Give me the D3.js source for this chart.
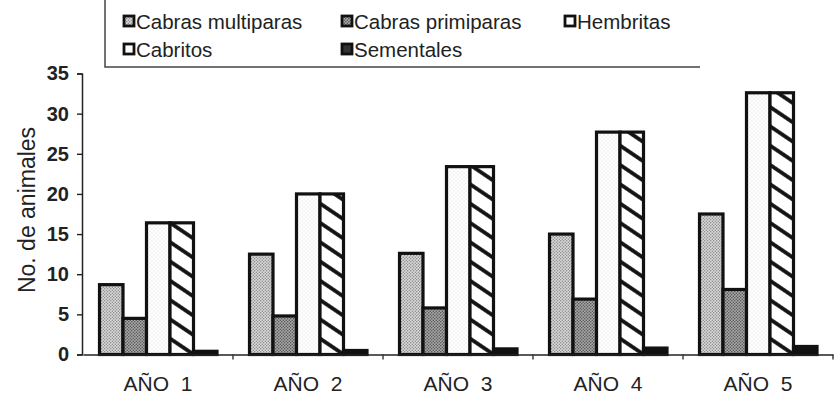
<!DOCTYPE html>
<html>
<head>
<meta charset="utf-8">
<script src="https://cdn.jsdelivr.net/npm/d3@7/dist/d3.min.js"></script>
<style>
  html, body { margin: 0; padding: 0; background: #fff; }
  svg { display: block; font-family: "Liberation Sans", Arial, sans-serif; }
</style>
</head>
<body>
<svg id="chart" width="835" height="401"></svg>
<script>
// Herd composition per year
const years = ["AÑO  1", "AÑO  2", "AÑO  3", "AÑO  4", "AÑO  5"];
const seriesNames = ["Cabras multiparas", "Cabras primiparas", "Hembritas", "Cabritos", "Sementales"];
const multiparas = [8.7, 12.5, 12.6, 15.0, 17.5];
const primiparas = [4.5, 4.8, 5.8, 6.9, 8.1];
const hembritas  = [16.4, 20.0, 23.4, 27.7, 32.6];
const cabritos   = [16.4, 20.0, 23.4, 27.7, 32.6];
const sementales = [0.4, 0.5, 0.7, 0.8, 1.0];
const yTicks = [0, 5, 10, 15, 20, 25, 30, 35];

const seriesValues = [multiparas, primiparas, hembritas, cabritos, sementales];
const fills = ["url(#pMulti)", "url(#pPrimi)", "url(#pHemb)", "url(#pCabr)", "#111"];

const svg = d3.select("#chart");
const defs = svg.append("defs");

// stipple fills
function dots(id, size, bg, color, pts, r) {
  const p = defs.append("pattern").attr("id", id)
    .attr("patternUnits", "userSpaceOnUse").attr("width", size).attr("height", size);
  p.append("rect").attr("width", size).attr("height", size).attr("fill", bg);
  pts.forEach(([x, y]) => p.append("circle").attr("cx", x).attr("cy", y).attr("r", r).attr("fill", color));
}
dots("pMulti", 3, "#dcdcdc", "#7a7a7a", [[0.75, 0.75], [2.25, 2.25]], 0.7);
dots("pPrimi", 3, "#aaa", "#4a4a4a", [[0.75, 0.75], [2.25, 2.25]], 0.75);
dots("pHemb", 4, "#fff", "#d2d2d2", [[1, 1], [3, 3]], 0.6);

// diagonal hatch
const hatch = defs.append("pattern").attr("id", "pCabr")
  .attr("patternUnits", "userSpaceOnUse").attr("width", 16).attr("height", 16)
  .attr("patternTransform", "rotate(34)");
hatch.append("rect").attr("width", 16).attr("height", 16).attr("fill", "#fff");
hatch.append("line").attr("x1", 0).attr("x2", 16).attr("y1", 8).attr("y2", 8)
  .attr("stroke", "#111").attr("stroke-width", 3.8);

const x0 = d3.scaleBand().domain(years).range([83, 833]).paddingInner(0);
const x1 = d3.scaleBand().domain(seriesNames).range([16.5, x0.bandwidth() - 16]).padding(0);
const y = d3.scaleLinear().domain([0, 35]).range([354.5, 73.5]);

// bars
const groups = svg.append("g").selectAll("g").data(years).join("g")
  .attr("transform", d => `translate(${x0(d)},0)`);
groups.selectAll("rect")
  .data((d, i) => seriesNames.map((s, k) => ({ s, k, v: seriesValues[k][i] })))
  .join("rect")
  .attr("x", d => x1(d.s))
  .attr("width", x1.bandwidth())
  .attr("y", d => y(d.v))
  .attr("height", d => y(0) - y(d.v))
  .attr("fill", d => fills[d.k])
  .attr("stroke", "#111")
  .attr("stroke-width", 3.2);

// y axis
const yAxis = svg.append("g").attr("transform", "translate(82,0)")
  .call(d3.axisLeft(y).tickValues(yTicks).tickSize(5).tickPadding(8).tickFormat(d3.format("d")));
yAxis.select(".domain").attr("stroke", "#222").attr("stroke-width", 1.5);
yAxis.selectAll(".tick line").attr("stroke", "#222").attr("stroke-width", 1.4);
yAxis.selectAll(".tick text").attr("font-size", 20).attr("font-weight", "bold")
  .attr("fill", "#222").attr("font-family", "Liberation Sans, Arial, sans-serif");

// x axis
const xAxis = svg.append("g").attr("transform", `translate(0,${y(0)})`)
  .call(d3.axisBottom(x0).tickSize(0).tickPadding(22));
xAxis.select(".domain").attr("stroke", "#222").attr("stroke-width", 1.5);
xAxis.selectAll(".tick text").attr("font-size", 21).attr("fill", "#222")
  .attr("font-family", "Liberation Sans, Arial, sans-serif")
  .style("white-space", "pre");
// separators between year groups
svg.append("g").selectAll("line").data(years).join("line")
  .attr("x1", d => x0(d) + x0.bandwidth()).attr("x2", d => x0(d) + x0.bandwidth())
  .attr("y1", y(0)).attr("y2", y(0) + 5)
  .attr("stroke", "#333").attr("stroke-width", 1.4);

// y title
svg.append("text")
  .attr("transform", `translate(35,${(y(0) + y(35)) / 2 - 4}) rotate(-90)`)
  .attr("text-anchor", "middle")
  .attr("font-size", 23).attr("fill", "#222")
  .text("No. de animales");

// legend
const legend = svg.append("g");
legend.append("path").attr("d", "M105,-2 V67 H700")
  .attr("fill", "none").attr("stroke", "#444").attr("stroke-width", 1.5);
const legendPos = [
  { x: 123, y: 29 }, { x: 341, y: 29 }, { x: 564, y: 29 },
  { x: 123, y: 57 }, { x: 341, y: 57 }
];
const legendFills = ["url(#pMulti)", "url(#pPrimi)", "#fff", "#fff", "#333"];
seriesNames.forEach((name, k) => {
  const p = legendPos[k];
  legend.append("rect").attr("x", p.x + 1).attr("y", p.y - 13).attr("width", 10).attr("height", 10)
    .attr("fill", legendFills[k]).attr("stroke", "#111").attr("stroke-width", 2.8);
  legend.append("text").attr("x", p.x + 13).attr("y", p.y)
    .attr("font-size", 20.5).attr("fill", "#222").text(name);
});
</script>
</body>
</html>
